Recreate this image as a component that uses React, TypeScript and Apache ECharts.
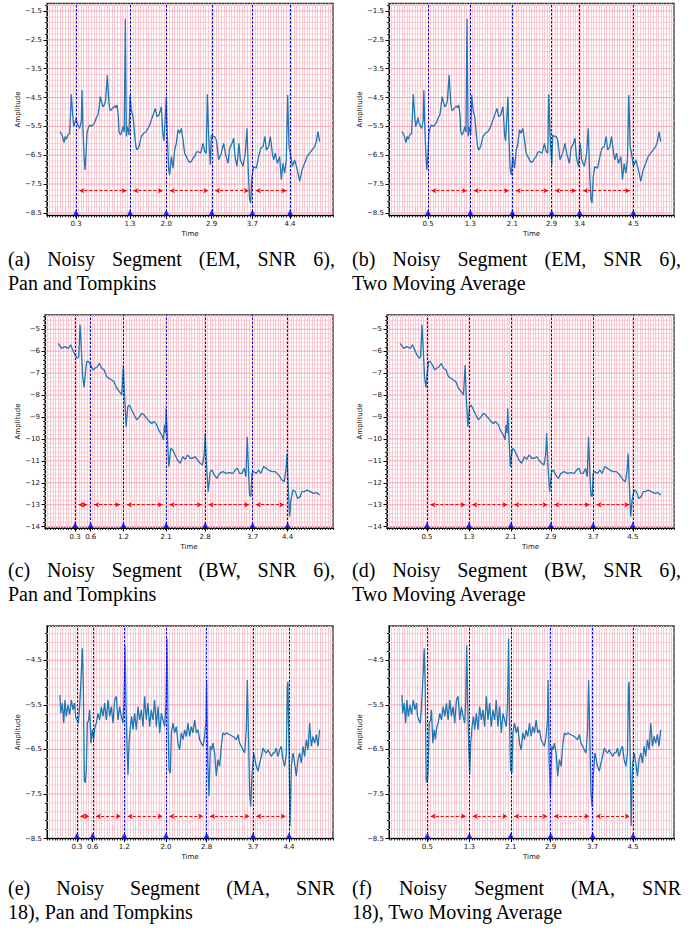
import React, { useEffect, useRef } from 'react';
import * as echarts from 'echarts';

// ---------------- DATA ----------------
// Noisy ECG segment with EM noise (panels a, b): [time s, amplitude]
const signalEM: [number, number][] = [
  [0.0, -5.68], [0.04, -5.8], [0.077, -6.06], [0.1, -5.85], [0.122, -5.95], [0.15, -5.8], [0.186, -5.75],
  [0.218, -4.39], [0.24, -5.0], [0.263, -5.51], [0.29, -5.35], [0.308, -5.2], [0.33, -5.4], [0.346, -5.45],
  [0.378, -5.57], [0.41, -5.3], [0.423, -4.24], [0.442, -5.6], [0.465, -6.6], [0.481, -7.01], [0.5, -6.5],
  [0.519, -5.74], [0.545, -5.55], [0.57, -5.45], [0.6, -5.5], [0.635, -5.45], [0.67, -5.35], [0.699, -5.2],
  [0.731, -5.11], [0.755, -4.8], [0.776, -4.47], [0.8, -4.65], [0.827, -4.82], [0.855, -4.75], [0.878, -4.59],
  [0.91, -3.72], [0.942, -4.7], [0.965, -4.95], [0.987, -4.93], [1.02, -4.85], [1.051, -4.79], [1.075, -4.85],
  [1.096, -4.76], [1.12, -5.1], [1.135, -5.68], [1.16, -5.8], [1.179, -5.74], [1.211, -5.51], [1.235, -5.7],
  [1.256, -1.765], [1.276, -5.85], [1.295, -5.51], [1.327, -5.8], [1.346, -4.41], [1.372, -4.93], [1.404, -5.16],
  [1.436, -5.8], [1.46, -6.2], [1.481, -6.32], [1.519, -6.2], [1.564, -5.85], [1.609, -5.74], [1.66, -5.68],
  [1.711, -5.51], [1.756, -5.28], [1.788, -5.11], [1.833, -4.88], [1.865, -5.16], [1.904, -5.11], [1.949, -4.82],
  [1.981, -5.8], [2.0, -6.0], [2.026, -5.16], [2.045, -4.47], [2.064, -5.85], [2.09, -7.01], [2.109, -7.18],
  [2.141, -6.55], [2.173, -6.95], [2.205, -6.32], [2.237, -6.09], [2.269, -5.62], [2.301, -5.74], [2.333, -5.57],
  [2.365, -5.97], [2.397, -6.43], [2.43, -6.55], [2.461, -6.66], [2.49, -6.75], [2.526, -6.72], [2.56, -6.6],
  [2.59, -6.55], [2.62, -6.4], [2.654, -6.37], [2.705, -6.43], [2.75, -6.09], [2.782, -6.37], [2.814, -6.43],
  [2.833, -4.39], [2.865, -6.09], [2.891, -6.83], [2.91, -5.8], [2.942, -5.85], [2.974, -5.85], [3.006, -5.97],
  [3.051, -6.66], [3.102, -6.43], [3.147, -6.09], [3.186, -6.49], [3.231, -6.78], [3.263, -6.26], [3.308, -6.09],
  [3.34, -5.91], [3.365, -6.55], [3.404, -6.89], [3.442, -6.09], [3.468, -6.66], [3.519, -6.89], [3.564, -6.43],
  [3.596, -5.57], [3.622, -7.12], [3.647, -8.04], [3.667, -8.16], [3.692, -7.24], [3.724, -6.89], [3.775, -6.95],
  [3.82, -6.55], [3.859, -6.26], [3.904, -6.2], [3.942, -5.85], [3.968, -6.32], [4.013, -6.2], [4.045, -5.85],
  [4.083, -6.43], [4.109, -6.66], [4.141, -6.43], [4.179, -6.78], [4.224, -6.55], [4.256, -7.35], [4.288, -6.78],
  [4.32, -7.12], [4.352, -6.66], [4.378, -4.41], [4.404, -6.2], [4.429, -6.43], [4.468, -6.89], [4.513, -6.66],
  [4.564, -7.01], [4.609, -7.41], [4.654, -7.01], [4.705, -6.78], [4.75, -6.55], [4.801, -6.43], [4.846, -6.32],
  [4.897, -6.2], [4.929, -6.03], [4.961, -5.68], [4.993, -6.03],
];

// Noisy ECG segment with baseline wander (panels c, d)
const signalBW: [number, number][] = [
  [0.0, -5.64], [0.069, -5.87], [0.132, -5.79], [0.196, -5.87], [0.241, -5.71], [0.279, -5.94], [0.324, -6.17],
  [0.368, -6.32], [0.394, -6.25], [0.419, -4.8], [0.445, -5.94], [0.47, -7.16], [0.496, -7.65], [0.521, -7.01],
  [0.547, -6.47], [0.578, -6.47], [0.623, -6.63], [0.661, -6.85], [0.706, -6.78], [0.751, -6.7], [0.789, -6.55],
  [0.833, -6.78], [0.878, -6.85], [0.929, -7.16], [0.974, -7.23], [1.025, -7.31], [1.069, -7.39], [1.12, -7.69],
  [1.171, -7.84], [1.216, -7.99], [1.248, -6.63], [1.267, -7.92], [1.299, -9.44], [1.331, -8.53], [1.362, -8.45],
  [1.407, -8.68], [1.452, -8.91], [1.503, -9.13], [1.554, -8.98], [1.598, -8.83], [1.643, -8.91], [1.694, -9.06],
  [1.745, -9.21], [1.789, -9.29], [1.834, -9.21], [1.885, -9.36], [1.936, -9.67], [1.981, -9.82], [2.012, -10.05],
  [2.032, -9.36], [2.051, -9.74], [2.063, -8.6], [2.089, -10.05], [2.114, -11.26], [2.153, -10.43], [2.191, -10.5],
  [2.235, -10.73], [2.28, -10.96], [2.331, -11.11], [2.382, -10.81], [2.427, -10.93], [2.471, -10.73], [2.522, -10.88],
  [2.573, -10.88], [2.618, -10.81], [2.662, -10.96], [2.713, -11.11], [2.758, -11.19], [2.79, -10.73], [2.809, -9.74],
  [2.835, -11.26], [2.866, -12.4], [2.905, -11.49], [2.943, -11.42], [2.981, -11.64], [3.032, -11.8], [3.083, -11.57],
  [3.147, -11.49], [3.211, -11.57], [3.274, -11.54], [3.338, -11.57], [3.383, -11.42], [3.427, -11.34], [3.465, -11.57],
  [3.51, -11.57], [3.555, -11.34], [3.587, -11.72], [3.612, -9.9], [3.638, -11.57], [3.657, -12.56], [3.682, -12.63],
  [3.701, -11.57], [3.733, -11.49], [3.784, -11.57], [3.829, -11.42], [3.873, -11.57], [3.924, -11.26], [3.975, -11.34],
  [4.02, -11.42], [4.084, -11.49], [4.147, -11.49], [4.211, -11.64], [4.275, -11.87], [4.319, -11.95], [4.351, -11.42],
  [4.37, -10.66], [4.396, -12.18], [4.421, -13.54], [4.447, -12.78], [4.485, -12.33], [4.53, -12.4], [4.574, -12.71],
  [4.625, -12.63], [4.657, -12.4], [4.702, -12.4], [4.753, -12.33], [4.817, -12.4], [4.88, -12.48], [4.944, -12.45],
  [4.995, -12.56],
];

// Noisy ECG segment with muscle artefact (panels e, f)
const signalMA: [number, number][] = [
  [0.0, -5.28], [0.013, -5.69], [0.045, -5.46], [0.071, -5.91], [0.096, -5.39], [0.122, -5.76], [0.154, -5.5],
  [0.186, -5.72], [0.218, -5.39], [0.25, -5.61], [0.282, -5.46], [0.301, -5.76], [0.327, -5.84], [0.353, -5.91],
  [0.378, -5.54], [0.404, -4.94], [0.429, -4.23], [0.449, -5.09], [0.468, -7.18], [0.487, -7.25], [0.506, -6.96],
  [0.526, -5.91], [0.551, -5.84], [0.57, -5.61], [0.596, -6.36], [0.622, -6.06], [0.647, -6.28], [0.673, -5.99],
  [0.699, -5.91], [0.731, -5.69], [0.763, -5.84], [0.795, -5.54], [0.827, -5.76], [0.859, -5.46], [0.891, -5.84],
  [0.923, -5.39], [0.955, -5.76], [0.987, -5.54], [1.019, -5.91], [1.051, -5.39], [1.083, -5.31], [1.115, -5.84],
  [1.147, -5.54], [1.179, -5.76], [1.211, -5.91], [1.231, -5.39], [1.25, -4.16], [1.269, -5.46], [1.288, -6.43],
  [1.308, -7.07], [1.327, -6.36], [1.353, -5.99], [1.378, -5.76], [1.404, -6.06], [1.436, -5.69], [1.468, -6.06],
  [1.5, -5.54], [1.532, -5.84], [1.564, -5.61], [1.596, -5.99], [1.628, -5.31], [1.66, -5.84], [1.692, -5.46],
  [1.724, -5.99], [1.756, -5.61], [1.788, -5.84], [1.82, -5.39], [1.852, -5.99], [1.885, -5.54], [1.917, -6.13],
  [1.949, -5.69], [1.981, -5.84], [2.013, -5.99], [2.038, -5.46], [2.058, -4.01], [2.077, -5.84], [2.096, -6.96],
  [2.122, -7.03], [2.141, -6.13], [2.173, -5.91], [2.205, -6.13], [2.237, -5.99], [2.269, -6.36], [2.301, -6.51],
  [2.333, -6.13], [2.365, -6.28], [2.397, -6.06], [2.429, -6.21], [2.461, -5.91], [2.493, -6.21], [2.526, -5.99],
  [2.558, -6.13], [2.59, -5.84], [2.622, -6.13], [2.654, -6.06], [2.686, -6.28], [2.718, -6.36], [2.75, -6.43],
  [2.782, -6.21], [2.808, -5.84], [2.82, -4.94], [2.84, -6.73], [2.865, -7.55], [2.891, -6.43], [2.917, -6.51],
  [2.942, -6.36], [2.974, -6.58], [3.006, -7.1], [3.038, -6.73], [3.07, -6.88], [3.102, -6.43], [3.134, -6.13],
  [3.167, -6.17], [3.199, -6.13], [3.263, -6.17], [3.327, -6.21], [3.391, -6.28], [3.423, -6.17], [3.455, -6.36],
  [3.487, -6.43], [3.519, -6.51], [3.551, -6.58], [3.583, -6.06], [3.602, -4.94], [3.622, -5.99], [3.647, -7.48],
  [3.667, -7.78], [3.692, -7.1], [3.724, -6.58], [3.75, -6.73], [3.775, -6.88], [3.808, -6.99], [3.84, -6.81],
  [3.872, -6.66], [3.904, -6.47], [3.936, -6.54], [3.968, -6.58], [4.0, -6.51], [4.032, -6.58], [4.064, -6.66],
  [4.096, -6.58], [4.128, -6.58], [4.16, -6.47], [4.192, -6.66], [4.224, -6.51], [4.256, -6.43], [4.288, -6.73],
  [4.32, -6.88], [4.352, -6.58], [4.372, -5.09], [4.384, -4.98], [4.404, -6.58], [4.423, -8.22], [4.449, -6.88],
  [4.481, -6.58], [4.513, -6.81], [4.545, -7.1], [4.577, -6.73], [4.609, -6.58], [4.641, -6.81], [4.673, -6.43],
  [4.705, -6.66], [4.737, -6.28], [4.769, -6.51], [4.801, -5.91], [4.833, -6.43], [4.865, -6.21], [4.897, -6.36],
  [4.929, -6.17], [4.961, -6.43], [4.993, -6.06],
];

// Detected R-peak times (s) per panel
const peaksA = [0.308, 1.346, 2.045, 2.917, 3.699, 4.423];
const peaksB = [0.503, 1.32, 2.13, 2.889, 3.43, 4.465];
const peaksC = [0.324, 0.623, 1.248, 2.063, 2.809, 3.714, 4.383];
const peaksD = [0.516, 1.32, 2.125, 2.89, 3.7, 4.46];
const peaksE = [0.327, 0.628, 1.237, 2.038, 2.82, 3.711, 4.404];
const peaksF = [0.49, 1.3, 2.1, 2.87, 3.68, 4.46];

// Y tick labels
const yTicksEM = [-8.5, -7.5, -6.5, -5.5, -4.5, -3.5, -2.5, -1.5];
const yTicksBW = [-14, -13, -12, -11, -10, -9, -8, -7, -6, -5];
const yTicksMA = [-8.5, -7.5, -6.5, -5.5, -4.5];

// Y ranges and RR-arrow levels
const yRangeEM: [number, number] = [-8.59, -1.24];
const yRangeBW: [number, number] = [-14.06, -4.35];
const yRangeMA: [number, number] = [-8.5, -3.73];
const arrowLevelEM = -7.73;
const arrowLevelBW = -13.0;
const arrowLevelMA = -8.0;

// Captions
const captionA = ['(a) Noisy Segment (EM, SNR 6),', 'Pan and Tompkins'];
const captionB = ['(b) Noisy Segment (EM, SNR 6),', 'Two Moving Average'];
const captionC = ['(c) Noisy Segment (BW, SNR 6),', 'Pan and Tompkins'];
const captionD = ['(d) Noisy Segment (BW, SNR 6),', 'Two Moving Average'];
const captionE = ['(e) Noisy Segment (MA, SNR', '18), Pan and Tompkins'];
const captionF = ['(f) Noisy Segment (MA, SNR', '18), Two Moving Average'];

// ---------------- STYLE / LAYOUT ----------------
const X_MIN = -0.25;
const X_MAX = 5.25;
const GRID_STEP_X = 0.05;
const MINOR_STEP_Y = 0.2;
const ARROW_GAP = 0.065;
const AX_FONT = 'DejaVu Sans';
const CAP_FONT = 'Liberation Serif';
const CAP_SIZE = 20;
const PINK_MINOR = '#fcc9d3';
const PINK_MAJOR = '#f6a5b6';
const SIGNAL_COLOR = '#1f77b4';

interface Panel {
  signal: [number, number][];
  peaks: number[];
  yTicks: number[];
  yRange: [number, number];
  arrowY: number;
  decimals: number;
  caption: string[];
  rect: { left: number; top: number; width: number; height: number };
  nameGap: number;
  capX: number;
  capW: number;
  capY: number;
}

const panels: Panel[] = [
  { signal: signalEM, peaks: peaksA, yTicks: yTicksEM, yRange: yRangeEM, arrowY: arrowLevelEM, decimals: 1, caption: captionA,
    rect: { left: 47, top: 3.5, width: 286, height: 212 }, nameGap: 25, capX: 8, capW: 327, capY: 259 },
  { signal: signalEM, peaks: peaksB, yTicks: yTicksEM, yRange: yRangeEM, arrowY: arrowLevelEM, decimals: 1, caption: captionB,
    rect: { left: 389, top: 3.5, width: 285, height: 212 }, nameGap: 25, capX: 352, capW: 329, capY: 259 },
  { signal: signalBW, peaks: peaksC, yTicks: yTicksBW, yRange: yRangeBW, arrowY: arrowLevelBW, decimals: 0, caption: captionC,
    rect: { left: 45, top: 315, width: 288, height: 213 }, nameGap: 23, capX: 8, capW: 327, capY: 570 },
  { signal: signalBW, peaks: peaksD, yTicks: yTicksBW, yRange: yRangeBW, arrowY: arrowLevelBW, decimals: 0, caption: captionD,
    rect: { left: 387, top: 315, width: 287, height: 213 }, nameGap: 23, capX: 352, capW: 329, capY: 570 },
  { signal: signalMA, peaks: peaksE, yTicks: yTicksMA, yRange: yRangeMA, arrowY: arrowLevelMA, decimals: 1, caption: captionE,
    rect: { left: 47, top: 626, width: 286, height: 212.5 }, nameGap: 25, capX: 8, capW: 327, capY: 888 },
  { signal: signalMA, peaks: peaksF, yTicks: yTicksMA, yRange: yRangeMA, arrowY: arrowLevelMA, decimals: 1, caption: captionF,
    rect: { left: 389, top: 626, width: 285, height: 212.5 }, nameGap: 25, capX: 352, capW: 329, capY: 888 },
];

function gridValuesY(ticks: number[], lo: number, hi: number, step: number) {
  const base = ticks[0];
  const out: { v: number; major: boolean }[] = [];
  const kMin = Math.ceil((lo - base) / step - 1e-6);
  const kMax = Math.floor((hi - base) / step + 1e-6);
  for (let k = kMin; k <= kMax; k++) {
    const v = +(base + k * step).toFixed(4);
    if (v - lo < 0.02 || hi - v < 0.02) continue;
    out.push({ v, major: ticks.some((t) => Math.abs(t - v) < 1e-6) });
  }
  return out;
}

function measureWords(words: string[]) {
  const c = document.createElement('canvas').getContext('2d');
  if (!c) return words.map((w) => w.length * CAP_SIZE * 0.45);
  c.font = `${CAP_SIZE}px "${CAP_FONT}"`;
  return words.map((w) => c.measureText(w).width);
}

function buildOption() {
  const grid: any[] = [];
  const xAxis: any[] = [];
  const yAxis: any[] = [];
  const series: any[] = [];
  const graphic: any[] = [];

  panels.forEach((p, i) => {
    const [yMin, yMax] = p.yRange;
    grid.push({
      left: p.rect.left, top: p.rect.top, width: p.rect.width, height: p.rect.height,
      show: true, borderColor: '#333', borderWidth: 1.3, backgroundColor: '#fff', outerBoundsMode: 'none', containLabel: false,
    });
    const xi = i * 2;
    const yi = i * 2;
    xAxis.push({
      type: 'value', gridIndex: i, min: X_MIN, max: X_MAX, position: 'bottom',
      name: 'Time', nameLocation: 'middle', nameGap: 15,
      nameTextStyle: { fontSize: 7, color: '#111', fontFamily: AX_FONT },
      axisLine: { show: true, onZero: false, lineStyle: { color: '#000', width: 1 } },
      axisTick: { show: true, length: 3.5, customValues: p.peaks, lineStyle: { color: '#000', width: 1 } },
      axisLabel: { show: true, customValues: p.peaks, formatter: (v: number) => v.toFixed(1), fontSize: 7, color: '#111', fontFamily: AX_FONT, margin: 5 },
      splitLine: { show: false },
    });
    xAxis.push({
      type: 'value', gridIndex: i, min: X_MIN, max: X_MAX, interval: GRID_STEP_X, position: 'bottom',
      axisLine: { show: false, onZero: false },
      axisTick: { show: true, length: 2, lineStyle: { color: '#000', width: 0.8 } },
      axisLabel: { show: false },
      splitLine: { show: true, showMinLine: false, showMaxLine: false, lineStyle: { color: PINK_MINOR, width: 1 } },
    });
    const hLines = gridValuesY(p.yTicks, yMin, yMax, MINOR_STEP_Y);
    const fmtY = (v: number) => (v < 0 ? '\u2212' : '') + Math.abs(v).toFixed(p.decimals);
    yAxis.push({
      type: 'value', gridIndex: i, min: yMin, max: yMax, position: 'left',
      name: 'Amplitude', nameLocation: 'middle', nameGap: p.nameGap, nameRotate: 90,
      nameTextStyle: { fontSize: 7, color: '#111', fontFamily: AX_FONT },
      axisLine: { show: true, onZero: false, lineStyle: { color: '#000', width: 1 } },
      axisTick: { show: true, length: 3.5, customValues: p.yTicks, lineStyle: { color: '#000', width: 1 } },
      axisLabel: { show: true, customValues: p.yTicks, formatter: fmtY, fontSize: 7, color: '#111', fontFamily: AX_FONT, margin: 5 },
      splitLine: { show: false },
    });
    yAxis.push({
      type: 'value', gridIndex: i, min: yMin, max: yMax, position: 'left',
      axisLine: { show: false, onZero: false },
      axisTick: { show: true, length: 2, customValues: hLines.map((h) => h.v), lineStyle: { color: '#000', width: 0.8 } },
      axisLabel: { show: false },
      splitLine: { show: false },
    });

    // horizontal ECG-paper lines
    series.push({
      type: 'custom', xAxisIndex: xi, yAxisIndex: yi, silent: true, z: 1, clip: false,
      data: hLines.map((h) => [X_MIN, h.v, h.major ? 1 : 0]),
      renderItem: (_params: any, api: any) => {
        const y = api.value(1);
        const a = api.coord([X_MIN, y]);
        const b = api.coord([X_MAX, y]);
        return {
          type: 'line',
          shape: { x1: a[0], y1: a[1], x2: b[0], y2: b[1] },
          style: { stroke: api.value(2) ? PINK_MAJOR : PINK_MINOR, lineWidth: 1 },
        };
      },
    });

    // signal + RR arrows
    const arrows: any[] = [];
    for (let k = 0; k < p.peaks.length - 1; k++) {
      arrows.push([
        { coord: [p.peaks[k] + ARROW_GAP, p.arrowY] },
        { coord: [p.peaks[k + 1] - ARROW_GAP, p.arrowY] },
      ]);
    }
    series.push({
      type: 'line', xAxisIndex: xi, yAxisIndex: yi, data: p.signal, showSymbol: false, symbol: 'none',
      silent: true, z: 2, lineStyle: { color: SIGNAL_COLOR, width: 1.3 },
      markLine: {
        silent: true, symbol: ['arrow', 'arrow'], symbolSize: [4, 5], z: 5,
        label: { show: false },
        lineStyle: { color: '#ff0000', type: [3, 2], width: 1 },
        emphasis: { disabled: true },
        data: arrows,
      },
    });

    // peak markers + vertical dashed lines
    series.push({
      type: 'scatter', xAxisIndex: xi, yAxisIndex: yi, silent: true, z: 6, clip: false,
      data: p.peaks.map((t) => [t, yMin]),
      symbol: 'triangle', symbolSize: [6, 6], symbolOffset: [0, -3],
      itemStyle: { color: '#0000ff' },
      markLine: {
        silent: true, symbol: 'none', z: 5,
        label: { show: false },
        lineStyle: { color: '#0000ff', type: [2.5, 1.5], width: 1 },
        emphasis: { disabled: true },
        data: p.peaks.map((t) => ({ xAxis: t })),
      },
    });

    // captions
    const lh = 23.5;
    const words = p.caption[0].split(' ');
    const ws = measureWords(words);
    const total = ws.reduce((s, w) => s + w, 0);
    const gap = (p.capW - total) / (words.length - 1);
    let cx = p.capX;
    words.forEach((w, k) => {
      graphic.push({
        type: 'text', x: cx, y: p.capY, silent: true,
        style: { text: w, fontSize: CAP_SIZE, fontFamily: CAP_FONT, fill: '#000', verticalAlign: 'middle', textVerticalAlign: 'middle' },
      });
      cx += ws[k] + gap;
    });
    graphic.push({
      type: 'text', x: p.capX, y: p.capY + lh, silent: true,
      style: { text: p.caption[1], fontSize: CAP_SIZE, fontFamily: CAP_FONT, fill: '#000', verticalAlign: 'middle', textVerticalAlign: 'middle' },
    });
  });

  return {
    animation: false,
    backgroundColor: '#fff',
    textStyle: { fontFamily: AX_FONT },
    grid, xAxis, yAxis, series, graphic,
  };
}

export default function App() {
  const ref = useRef<HTMLDivElement>(null);
  useEffect(() => {
    const el = ref.current;
    if (!el) return;
    const chart = echarts.init(el, undefined, { renderer: 'svg', width: 694, height: 933 });
    chart.setOption(buildOption() as any);
    return () => chart.dispose();
  }, []);
  return (
    <div
      ref={ref}
      style={{ position: 'absolute', left: 0, top: 0, width: 694, height: 933, background: '#fff' }}
    />
  );
}
